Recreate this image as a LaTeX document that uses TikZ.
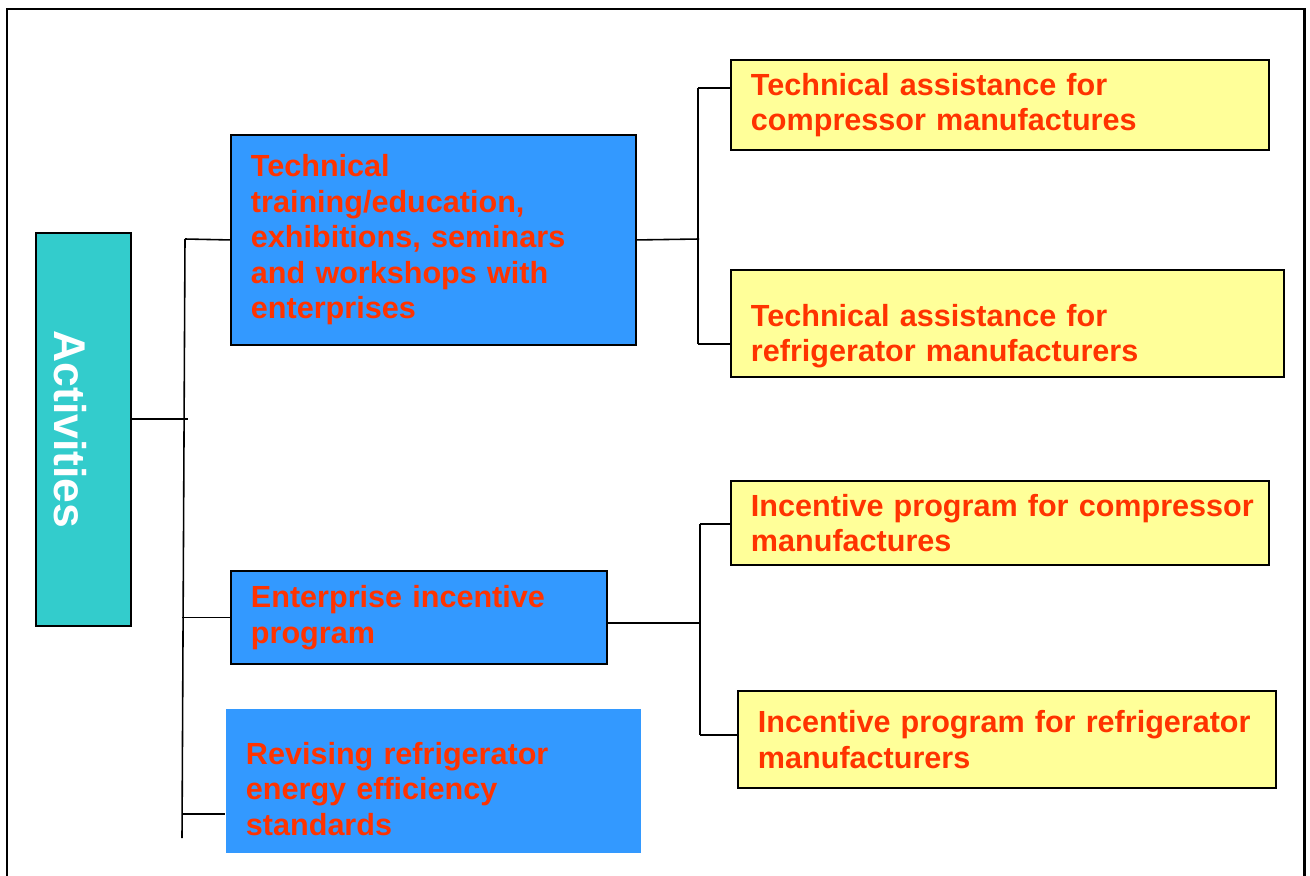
\documentclass[tikz,border=0pt]{standalone}
\usepackage{fontspec}
\setmainfont{Liberation Sans}
\definecolor{actcolor}{HTML}{33CCCC}
\definecolor{bluebox}{HTML}{3399FF}
\definecolor{yellowbox}{HTML}{FFFF99}
\definecolor{redtext}{HTML}{FF3300}

\begin{document}
\begin{tikzpicture}[x=0.02cm,y=-0.02cm,line width=0.9pt,
    box/.style={draw=black,line width=1.1pt,anchor=north west,align=left,
        text=redtext,inner xsep=0.4cm,inner ysep=0pt,
        font=\fontsize{17.4}{20.2}\selectfont\bfseries},
    bluenode/.style={box,fill=bluebox},
    yellownode/.style={box,fill=yellowbox}]
    % 画布
    \useasboundingbox (0,0) rectangle (1310,875);
    \draw[line width=1.7pt] (7,880) -- (7,9) -- (1304,9) -- (1304,880);

    % 左侧 Activities
    \node[draw=black,line width=1.1pt,fill=actcolor,anchor=north west,
        minimum width=1.9cm,minimum height=7.86cm] (act) at (35,232) {};
    \node[rotate=-90,text=white,font=\fontsize{25.3}{28}\selectfont\bfseries]
        (actlabel) at ([xshift=-0.26cm]act.center) {Activities};

    % 蓝色方框
    \node[bluenode,text width=7.3cm,minimum height=4.2cm] (train) at (230,134)
        {Technical\\training/education,\\exhibitions, seminars\\and workshops with\\enterprises};
    \node[bluenode,text width=6.72cm,minimum height=1.86cm] (incent) at (230,570)
        {Enterprise incentive\\program};
    \node[bluenode,draw=none,text width=7.5cm,minimum height=2.88cm] (revise) at (225,708)
        {\rule{0pt}{0.75cm}Revising refrigerator\\energy efficiency\\standards};

    % 黄色方框
    \node[yellownode,text width=9.96cm,minimum height=1.8cm] (tacomp) at (730,59)
        {Technical assistance for\\compressor manufactures};
    \node[yellownode,text width=10.26cm,minimum height=2.14cm] (tarefr) at (730,269)
        {\rule{0pt}{0.95cm}Technical assistance for\\refrigerator manufacturers};
    \node[yellownode,text width=9.96cm,minimum height=1.68cm] (ipcomp) at (730,480)
        {\mbox{Incentive program for compressor}\\manufactures};
    \node[yellownode,text width=9.96cm,minimum height=1.94cm] (iprefr) at (737,690)
        {\makebox[9.96cm][s]{Incentive program for refrigerator}\\manufacturers};

    % 左侧连线
    \coordinate (trunktop) at (185,239);
    \coordinate (trunkbot) at (182,838);
    \coordinate (actj) at (188,419);
    \coordinate (revj) at (182,814);
    \draw (trunktop) -- (trunkbot);
    \draw (act.east |- actj) -- (actj);
    \draw (trunktop) -- (train.west);
    \draw (incent.west -| trunkbot) -- (incent.west);
    \draw (revj) -- (revj -| revise.west);

    % 右侧连线 (上)
    \coordinate (ta) at (699,239);
    \coordinate (tatop) at (698,88);
    \coordinate (tabot) at (698,344);
    \draw (train.east) -- (ta);
    \draw (tatop) -- (tabot);
    \draw (tatop) -- (tatop -| tacomp.west);
    \draw (tabot) -- (tabot -| tarefr.west);

    % 右侧连线 (下)
    \coordinate (ip) at (700,623);
    \coordinate (iptop) at (700,524);
    \coordinate (ipbot) at (700,735);
    \draw (ip -| incent.east) -- (ip);
    \draw (iptop) -- (ipbot);
    \draw (iptop) -- (iptop -| ipcomp.west);
    \draw (ipbot) -- (ipbot -| iprefr.west);
\end{tikzpicture}
\end{document}
